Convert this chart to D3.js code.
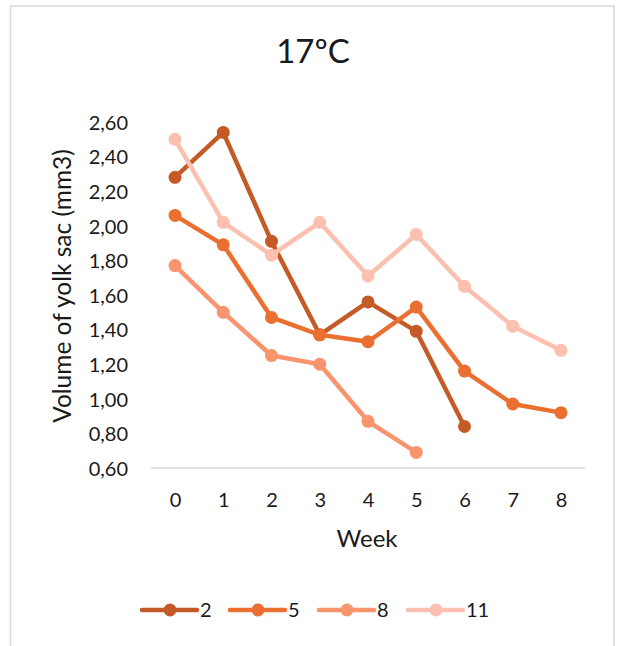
<!DOCTYPE html>
<html><head><meta charset="utf-8">
<script src="https://cdn.jsdelivr.net/npm/d3@7"></script>
<style>body{margin:0;background:#fff}svg{display:block}text{font-family:Lato,"Open Sans",sans-serif;fill:#1a1a1a}</style>
</head><body>
<script>
const weeks = [0,1,2,3,4,5,6,7,8];
const seriesNames = ["2","5","8","11"];
const s2  = [2.28,2.54,1.91,1.37,1.56,1.39,0.84];
const s5  = [2.06,1.89,1.47,1.37,1.33,1.53,1.16,0.97,0.92];
const s8  = [1.77,1.50,1.25,1.20,0.87,0.69];
const s11 = [2.50,2.02,1.83,2.02,1.71,1.95,1.65,1.42,1.28];
const yTicks = [0.6,0.8,1.0,1.2,1.4,1.6,1.8,2.0,2.2,2.4,2.6];
const colors = ["#C45B27","#EB6F31","#F8956E","#FBC0AF"];
const allSeries = [s2,s5,s8,s11];

const W=622,H=646;
const FF="Lato,'Open Sans',sans-serif";
const svg=d3.select("body").append("svg").attr("width",W).attr("height",H);
svg.append("rect").attr("x",10.5).attr("y",6).attr("width",603.5).attr("height",660)
  .attr("fill","#fff").attr("stroke","#D9D9D9").attr("stroke-width",1.5);

const x=d3.scalePoint().domain(weeks).range([175,561]);
const y=d3.scaleLinear().domain([0.6,2.6]).range([468,122]);

svg.append("text").attr("x",313).attr("y",63).attr("text-anchor","middle")
  .style("font-size","33px").text("17ºC");

const fmt=d=>d3.format(".2f")(d).replace(".",",");
const ya=svg.append("g").attr("transform","translate(128,0)")
  .call(d3.axisLeft(y).tickValues(yTicks).tickFormat(fmt).tickSize(0).tickPadding(0));
ya.select(".domain").remove();
ya.selectAll("text").style("font-size","20px").style("font-family",FF).attr("fill","#1a1a1a").attr("dy","0.36em");

const xa=svg.append("g").attr("transform","translate(0,468)")
  .call(d3.axisBottom(x).tickSize(0).tickPadding(0));
xa.select(".domain").attr("stroke","#D9D9D9").attr("stroke-width",1.5).attr("d","M151,0H585");
xa.selectAll("text").style("font-size","20px").style("font-family",FF).attr("fill","#1a1a1a")
  .attr("dy",null).attr("y",39);

svg.append("text").attr("x",367).attr("y",547).attr("text-anchor","middle").style("font-size","24px").text("Week");
svg.append("text").attr("transform","translate(71,286) rotate(-90)").attr("text-anchor","middle")
  .style("font-size","24.5px").text("Volume of yolk sac (mm3)");

const line=d3.line().x((d,i)=>x(weeks[i])).y(d=>y(d));
allSeries.forEach((s,k)=>{
  const g=svg.append("g");
  g.append("path").attr("d",line(s)).attr("fill","none").attr("stroke",colors[k])
    .attr("stroke-width",4.5).attr("stroke-linejoin","round");
  g.selectAll("circle").data(s).join("circle").attr("cx",(d,i)=>x(weeks[i])).attr("cy",d=>y(d))
    .attr("r",6.5).attr("fill",colors[k]);
});

const lx=[142,230,319,408];
seriesNames.forEach((n,k)=>{
  const g=svg.append("g").attr("transform",`translate(${lx[k]},610)`);
  g.append("line").attr("x1",0).attr("x2",55).attr("stroke",colors[k]).attr("stroke-width",4.5).attr("stroke-linecap","round");
  g.append("circle").attr("cx",28).attr("r",6.5).attr("fill",colors[k]);
  g.append("text").attr("x",58).attr("y",7).style("font-size","20px").text(n);
});
</script>
</body></html>
